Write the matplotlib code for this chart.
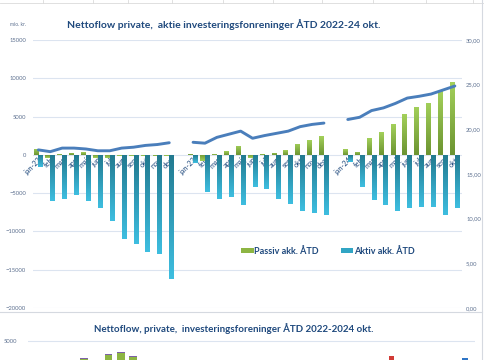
import numpy as np
import matplotlib
matplotlib.use('Agg')
import matplotlib.pyplot as plt
from matplotlib.patches import Patch
from matplotlib.lines import Line2D
from matplotlib.colors import LinearSegmentedColormap

plt.rcParams['font.family'] = ['Lato', 'DejaVu Sans']

# data (mio. kr., ÅTD akkumuleret)
maaneder_22 = ['jan-22', 'feb', 'mar', 'apr', 'maj', 'jun', 'jul', 'aug', 'sep', 'okt', 'nov', 'dec']
maaneder_23 = ['jan-23', 'feb', 'mar', 'apr', 'maj', 'jun', 'jul', 'aug', 'sep', 'okt', 'nov', 'dec']
maaneder_24 = ['jan-24', 'feb', 'mar', 'apr', 'maj', 'jun', 'jul', 'aug', 'sep', 'okt']

passiv_22 = [800, -350, 50, 300, 350, -450, -400, -150, -200, -200, -100, -150]
passiv_23 = [150, -800, 100, 450, 1200, -400, 80, 280, 650, 1450, 1900, 2450]
passiv_24 = [700, 400, 2200, 3000, 4000, 5300, 6300, 6800, 8300, 9500]

aktiv_22 = [-1600, -6000, -5700, -5200, -6000, -7000, -8700, -11000, -11600, -12700, -12900, -16200]
aktiv_23 = [-1000, -4900, -5700, -5500, -6600, -4200, -4400, -5700, -6400, -7300, -7600, -7800]
aktiv_24 = [-900, -4200, -5900, -6500, -7300, -7000, -6750, -6750, -7900, -6950]

# line on right axis
linje_22 = [17.7, 17.5, 17.9, 17.9, 17.8, 17.6, 17.6, 17.9, 18.0, 18.2, 18.3, 18.5]
linje_23 = [18.55, 18.45, 19.1, 19.45, 19.8, 19.0, 19.3, 19.55, 19.8, 20.3, 20.55, 20.7]
linje_24 = [21.1, 21.35, 22.1, 22.4, 22.9, 23.5, 23.7, 23.95, 24.4, 24.85]

# second (cut off) chart below: only the tops are visible
bund_index = [4, 6, 7, 8, 29, 35]
bund_groen = [2750, 3200, 3450, 3050, np.nan, np.nan]
bund_lilla = [130, 150, 150, 110, np.nan, np.nan]
bund_roed = [np.nan, np.nan, np.nan, np.nan, 3150, np.nan]
bund_blaa = [np.nan, np.nan, np.nan, np.nan, np.nan, 2900]

# one empty category between the years
kategorier = maaneder_22 + [''] + maaneder_23 + [''] + maaneder_24
passiv = passiv_22 + [np.nan] + passiv_23 + [np.nan] + passiv_24
aktiv = aktiv_22 + [np.nan] + aktiv_23 + [np.nan] + aktiv_24
linje = linje_22 + [np.nan] + linje_23 + [np.nan] + linje_24

navy = '#1F497D'
tick_col = '#5E7190'
grid_col = '#DCE4F0'

W, H = 485, 360
def fx(px):
    return px / W
def fy(py):
    return 1 - py / H

fig = plt.figure(figsize=(4.85, 3.6), dpi=100)


def gradient_bars(ax, bars, top, bottom):
    cmap = LinearSegmentedColormap.from_list('g', [top, bottom])
    grad = np.linspace(0, 1, 64).reshape(-1, 1)
    for p in bars:
        bb = p.get_bbox()
        if not np.all(np.isfinite([bb.x0, bb.x1, bb.y0, bb.y1])) or bb.height == 0:
            continue
        im = ax.imshow(grad, extent=[bb.x0, bb.x1, bb.y0, bb.y1], aspect='auto',
                       cmap=cmap, zorder=2.5, interpolation='bilinear')
        im.set_clip_path(p)


ax = fig.add_axes([fx(33), fy(308), (462 - 33) / W, (308 - 40) / H])
x = np.arange(len(kategorier))
bp = ax.bar(x - 0.2, passiv, 0.4, color='#8DB543', zorder=2)
ba = ax.bar(x + 0.2, aktiv, 0.4, color='#31A5C4', zorder=2)
gradient_bars(ax, bp, '#A3D05A', '#6C9431')
gradient_bars(ax, ba, '#3EBEE0', '#22798F')

ax.set_xlim(-0.45, 35.6)
ax.set_ylim(-20000, 15000)
ax.set_yticks(np.arange(-20000, 15001, 5000))
ax.yaxis.grid(True, color=grid_col, lw=0.8)
ax.set_axisbelow(True)
for s in ax.spines.values():
    s.set_visible(False)
ax.spines['bottom'].set_position(('data', 0))
ax.set_xticks(x)
ax.set_xticklabels(kategorier)
ax.tick_params(axis='x', length=0, pad=1, labelsize=5.3, labelcolor=navy)
ax.tick_params(axis='y', length=0, pad=5, labelsize=4.2, labelcolor=tick_col)
plt.setp(ax.get_xticklabels(), rotation=45, ha='right', rotation_mode='anchor')

ax2 = ax.twinx()
ax2.plot(x, linje, color='#4A7EBB', lw=2.1, solid_capstyle='round', zorder=3)
ax2.set_ylim(0, 30)
ax2.set_yticks(np.arange(0, 31, 5))
ax2.set_yticklabels([f'{v:.2f}'.replace('.', ',') for v in np.arange(0, 31, 5)])
for s in ax2.spines.values():
    s.set_visible(False)
ax2.tick_params(axis='y', length=0, pad=3, labelsize=4.2, labelcolor=tick_col)

fig.text(fx(224), fy(25), 'Nettoflow private,  aktie investeringsfonreninger ÅTD 2022-24 okt.',
         ha='center', va='center', fontsize=7.5, fontweight='bold', color=navy)
fig.text(fx(10), fy(25), 'mio. kr.', ha='left', va='center', fontsize=3.5, color=tick_col)

handles = [Patch(facecolor='#8DB543', edgecolor='none'), Patch(facecolor='#31A5C4', edgecolor='none')]
fig.legend(handles, ['Passiv akk. ÅTD', 'Aktiv akk. ÅTD'], loc='center',
           bbox_to_anchor=(fx(328), fy(251)), ncol=2, frameon=False,
           handlelength=1.4, handleheight=0.45, handletextpad=0.1, columnspacing=2.4,
           prop={'size': 6.5, 'weight': 'bold'}, labelcolor=navy)

# sheet borders
fig.add_artist(Line2D([0, 1], [fy(2.5), fy(2.5)], color='#DADADA', lw=0.6))
for px in [43, 93, 128, 172, 223, 273, 322, 373, 426, 473]:
    fig.add_artist(Line2D([fx(px), fx(px)], [fy(0), fy(2.5)], color='#DADADA', lw=0.6))
fig.add_artist(Line2D([0, fx(482)], [fy(312), fy(312)], color='#D5D9E0', lw=0.8))
fig.add_artist(Line2D([fx(482), fx(482)], [0, 1], color='#D5D9E0', lw=0.8))

# second chart, cut off at the bottom
ax3 = fig.add_axes([fx(28), 0, (475 - 28) / W, (360 - 335) / H])
ax3.set_xlim(-0.55, 35.8)
ax3.set_ylim(2625, 5750)
ax3.set_yticks([5000])
ax3.yaxis.grid(True, color=grid_col, lw=0.8)
ax3.set_axisbelow(True)
for s in ax3.spines.values():
    s.set_visible(False)
ax3.set_xticks([])
ax3.tick_params(axis='y', length=0, pad=8, labelsize=4.2, labelcolor=tick_col)
ax3.bar(bund_index, bund_groen, 0.6, color='#8DB543')
ax3.bar(bund_index, bund_lilla, 0.6, bottom=bund_groen, color='#7E60A8')
ax3.bar(bund_index, bund_roed, 0.45, color='#D13B36')
ax3.bar(bund_index, bund_blaa, 0.45, color='#2E75C6')
fig.text(fx(234), fy(329), 'Nettoflow, private,  investeringsforeninger ÅTD 2022-2024 okt.',
         ha='center', va='center', fontsize=7, fontweight='bold', color=navy)

fig.savefig('out.png', dpi=100)
